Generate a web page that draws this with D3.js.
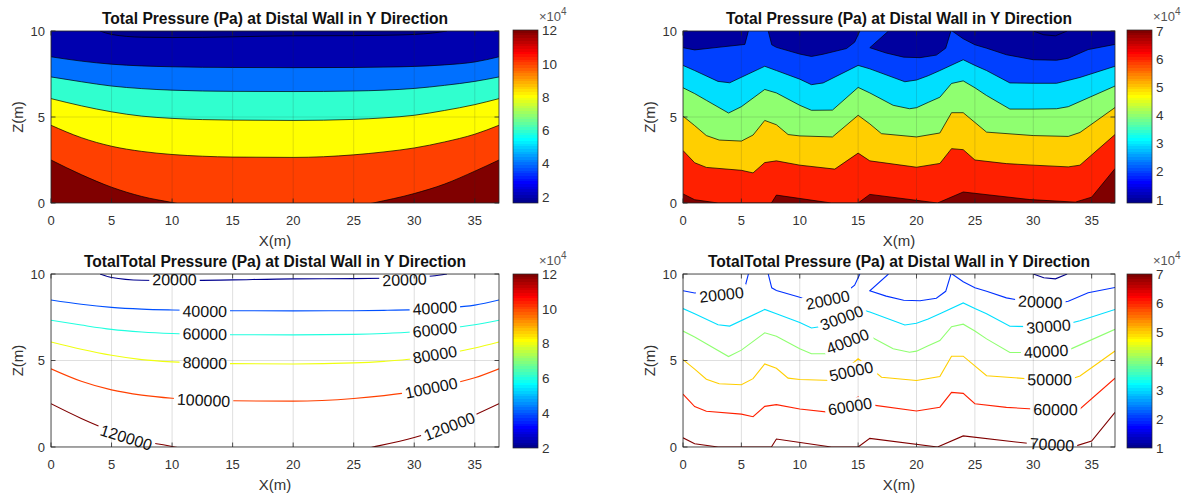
<!DOCTYPE html>
<html><head><meta charset="utf-8">
<script src="https://cdn.jsdelivr.net/npm/d3@7"></script>
<style>
body{margin:0;background:#fff;}
svg{display:block;font-family:"Liberation Sans",Arial,Helvetica,sans-serif;}
</style></head><body>
<svg id="chart" width="1190" height="495"></svg>
<script>
// ---------------- DATA ----------------
const xTicks = [0,5,10,15,20,25,30,35];
const zTicks = [0,5,10];
const leftBarTicks = [2,4,6,8,10,12];      // x10^4
const rightBarTicks = [1,2,3,4,5,6,7];     // x10^4

// Left dataset: contour lines (x, z) per pressure level
const leftLevels = [20000,40000,60000,80000,100000,120000];
const left20  = [[[4.05,10],[5,9.8],[7.5,9.64],[10,9.62],[12.5,9.63],[15,9.66],[20,9.72],[25,9.73],[27.5,9.75],[30,9.8],[31.5,9.88],[32.7,10]]];
const left40  = [[[0,8.5],[2.5,8.25],[5,8.07],[7.5,7.97],[10,7.92],[12.5,7.89],[15,7.88],[20,7.87],[25,7.88],[27.5,7.9],[30,7.94],[32.5,8.03],[35,8.2],[37,8.5]]];
const left60  = [[[0,7.33],[2.5,7.05],[5,6.8],[7.5,6.65],[10,6.56],[12.5,6.51],[15,6.49],[20,6.48],[25,6.51],[27.5,6.56],[30,6.66],[32.5,6.84],[35,7.07],[37,7.33]]];
const left80  = [[[0,6.07],[2.5,5.65],[5,5.3],[7.5,5.05],[10,4.92],[12.5,4.85],[15,4.82],[20,4.8],[25,4.86],[27.5,4.95],[30,5.1],[32.5,5.38],[35,5.72],[37,6.07]]];
const left100 = [[[0,4.52],[2.5,3.8],[5,3.3],[7.5,3.0],[10,2.82],[12.5,2.72],[15,2.67],[20,2.65],[25,2.8],[27.5,2.97],[30,3.2],[32.5,3.55],[35,4.0],[37,4.52]]];
const left120 = [[[0,2.5],[2.5,1.65],[5,0.92],[7.5,0.38],[10,0.03],[12.5,-0.3],[18.5,-0.8],[24.5,-0.3],[26.6,0],[30,0.55],[32.5,1.1],[35,1.85],[37,2.5]]];
const leftFillRange = [16400,120300];
const leftLineRange = [20000,120000];
const leftLabels = [[20000,10.2,9.67],[20000,29.2,9.67],[40000,12.7,7.84],[40000,31.7,8.03],
  [60000,12.7,6.53],[60000,31.7,6.78],[80000,12.7,4.86],[80000,31.7,5.34],
  [100000,12.6,2.7],[100000,31.4,3.41],[120000,6.2,0.55],[120000,32.9,1.19]];

// Right dataset
const rightLevels = [10000,20000,30000,40000,50000,60000,70000];
const right10 = [[[30,10],[30.9,9.78],[31.9,9.72],[32.9,10]]];
const right20 = [
  [[0,9.03],[1,8.9],[3,9.05],[5.3,9.22],[5.6,10]],
  [[7.3,10],[7.6,9.2],[8,9.05],[10,8.66],[11,8.52],[12,8.65],[14,8.98],[14.7,9.35],[15.15,10]],
  [[17.6,10],[16,9.03],[17.4,8.72],[18.9,8.48],[20.3,8.45],[21.7,8.6],[22.5,9.0],[22.95,10]],
  [[23.05,10],[24,9.55],[25,9.2],[26,9.0],[27.7,8.62],[30,8.33],[32,8.3],[33,8.42],[34.7,8.92],[37,9.22]]
];
const right30 = [[[0,8.0],[1,7.7],[3,7.07],[4,6.99],[7,7.95],[8,7.7],[10,7.2],[11,6.88],[12,6.98],[15,8.0],[16,7.8],[19,7.05],[20,7.15],[21,7.4],[22,7.7],[24,8.33],[25,8.0],[26,7.7],[28,6.98],[30,6.96],[32,6.96],[34,7.3],[37,7.95]]];
const right40 = [[[0,6.7],[1,6.36],[2,5.97],[3.9,5.23],[5,5.6],[7,6.6],[8,6.4],[10,5.68],[11,5.39],[12.8,5.4],[15,6.72],[16,6.4],[18,5.68],[19.4,5.48],[20,5.54],[21,5.85],[22,6.15],[23,6.95],[24,7.1],[25,6.7],[26,6.25],[28,5.46],[30,5.46],[32,5.48],[33,5.6],[37,6.8]]];
const right50 = [[[0,5.05],[1,4.5],[2,3.92],[3.1,3.66],[5,3.6],[6,3.95],[7,4.8],[8,4.55],[9,3.98],[10,3.9],[12.8,3.84],[15,5.1],[16,4.6],[17,4.03],[20,3.84],[22,4.07],[23,5.25],[24,5.25],[26,4.12],[30,3.92],[33,3.87],[34,4.1],[37,5.55]]];
const right60 = [[[0,3.05],[1,2.34],[2,2.07],[5,1.9],[6,1.75],[7,2.35],[8,2.45],[10,2.2],[13,1.97],[15,2.9],[16,2.45],[20,2.08],[22,2.3],[23,3.16],[24,3.1],[25,2.5],[27.7,2.29],[30,2.2],[33,2.1],[34,2.2],[37,3.98]]];
const right70 = [[[0,0.53],[1,0.19],[3,0],[7.57,0],[8,0.46],[12.7,0],[15,0],[16,0.5],[21.8,0],[24,0.64],[29.7,0.2],[33.6,0.05],[35,0.34],[37,2.0]]];
const rightFillRange = [8900,70300];
const rightLineRange = [10000,70000];
const rightLabels = [[20000,3.3,8.8],[20000,12.4,8.5],[20000,30.6,8.38],[30000,13.6,7.46],[30000,31.3,6.97],
  [40000,14.1,6.1],[40000,31.1,5.53],[50000,14.4,4.37],[50000,31.4,3.89],[60000,14.3,2.35],[60000,31.9,2.16],[70000,31.6,0.13]];

const title1 = "Total Pressure (Pa) at Distal Wall in Y Direction";
const title2 = "TotalTotal Pressure (Pa) at Distal Wall in Y Direction";

// ---------------- DRAWING ----------------
const svg = d3.select('#chart');
const defs = svg.append('defs');
const AX = '#262626';

// MATLAB-style jet colormap with 64 entries
function jetRow(k){ // k = 1..64
  const u = j => j<=16 ? j/16 : (j<=31 ? 1 : (48-j)/16);
  const r = (k>=25) ? u(k-24) : 0;
  const g = (k>=9 && k<=55) ? u(k-8) : 0;
  const b = (k<=39) ? u(k+8) : 0;
  const c = v => Math.round(255*v);
  return `rgb(${c(r)},${c(g)},${c(b)})`;
}
function cmap(v, range){
  const t = (v-range[0])/(range[1]-range[0]);
  const k = Math.max(1, Math.min(64, Math.floor(t*64)+1));
  return jetRow(k);
}
const grad = defs.append('linearGradient').attr('id','jetGrad').attr('x1',0).attr('y1',1).attr('x2',0).attr('y2',0);
d3.range(1,65).forEach(k=>{
  grad.append('stop').attr('offset',(k-1)/64).attr('stop-color',jetRow(k));
  grad.append('stop').attr('offset',k/64).attr('stop-color',jetRow(k));
});

function valuesAt(polys, xv){
  const out=[];
  polys.forEach(p=>{for(let i=0;i<p.length-1;i++){const a=p[i],b=p[i+1];const lo=Math.min(a[0],b[0]),hi=Math.max(a[0],b[0]);
    if(hi>lo && xv>=lo && xv<=hi) out.push(a[1]+(b[1]-a[1])*(xv-a[0])/(b[0]-a[0]));}});
  return out;
}
function nearestAt(polys, xv, z){
  const v=valuesAt(polys,xv); if(!v.length) return z;
  return v.reduce((m,d)=>Math.abs(d-z)<Math.abs(m-z)?d:m, v[0]);
}

let pid=0;
function panel(cfg){
  pid++;
  const x = d3.scaleLinear([0,37],[cfg.x0,cfg.x1]);
  const y = d3.scaleLinear([0,10],[cfg.y1,cfg.y0]);
  const cid='clip'+pid;
  defs.append('clipPath').attr('id',cid).append('rect')
    .attr('x',cfg.x0).attr('y',cfg.y0).attr('width',cfg.x1-cfg.x0).attr('height',cfg.y1-cfg.y0);
  const g = svg.append('g');
  const plot = g.append('g').attr('clip-path',`url(#${cid})`);
  const line = d3.line().x(d=>x(d[0])).y(d=>y(d[1])).curve(cfg.curve);
  const levels = cfg.levels;

  if(cfg.filled){
    const range=cfg.range;
    plot.append('rect').attr('x',cfg.x0).attr('y',cfg.y0).attr('width',cfg.x1-cfg.x0).attr('height',cfg.y1-cfg.y0)
      .attr('fill',cmap(levels[levels.length-1].level, range));
    for(let i=levels.length-1;i>=0;i--){
      const below = i>0 ? levels[i-1].level : range[0];
      const d = levels[i].polys.map(p=>line(p)+`L${x(p[p.length-1][0])},${y(11)}L${x(p[0][0])},${y(11)}Z`).join('');
      plot.append('path').attr('d',d).attr('fill',cmap(below, range));
    }
  } else {
    plot.append('rect').attr('x',cfg.x0).attr('y',cfg.y0).attr('width',cfg.x1-cfg.x0).attr('height',cfg.y1-cfg.y0).attr('fill','#fff');
  }
  // grid
  const grid = plot.append('g').attr('stroke',AX).attr('stroke-opacity',0.15).attr('stroke-width',1);
  xTicks.forEach(v=>grid.append('line').attr('x1',x(v)).attr('x2',x(v)).attr('y1',cfg.y0).attr('y2',cfg.y1));
  zTicks.forEach(v=>grid.append('line').attr('y1',y(v)).attr('y2',y(v)).attr('x1',cfg.x0).attr('x2',cfg.x1));

  // contour lines
  const lg = plot.append('g').attr('fill','none');
  let maskSel=null;
  if(!cfg.filled){
    const mid='mask'+pid;
    maskSel = defs.append('mask').attr('id',mid).attr('maskUnits','userSpaceOnUse').attr('x',0).attr('y',0).attr('width',1190).attr('height',495);
    maskSel.append('rect').attr('x',0).attr('y',0).attr('width',1190).attr('height',495).attr('fill','#fff');
    lg.attr('mask',`url(#${mid})`);
  }
  levels.forEach(L=>{
    L.polys.forEach(p=>{
      lg.append('path').attr('d',line(p))
        .attr('stroke', cfg.filled ? '#000' : cmap(L.level, cfg.lineRange))
        .attr('stroke-width', cfg.filled ? 0.7 : 1.1);
    });
  });

  // box and ticks
  const ax = g.append('g').attr('stroke',AX).attr('stroke-width',0.8).attr('fill','none');
  ax.append('rect').attr('x',cfg.x0).attr('y',cfg.y0).attr('width',cfg.x1-cfg.x0).attr('height',cfg.y1-cfg.y0);
  const tl=4.5;
  xTicks.forEach(v=>{
    ax.append('line').attr('x1',x(v)).attr('x2',x(v)).attr('y1',cfg.y1).attr('y2',cfg.y1-tl);
    ax.append('line').attr('x1',x(v)).attr('x2',x(v)).attr('y1',cfg.y0).attr('y2',cfg.y0+tl);
  });
  zTicks.forEach(v=>{
    ax.append('line').attr('y1',y(v)).attr('y2',y(v)).attr('x1',cfg.x0).attr('x2',cfg.x0+tl);
    ax.append('line').attr('y1',y(v)).attr('y2',y(v)).attr('x1',cfg.x1).attr('x2',cfg.x1-tl);
  });
  const tg = g.append('g').attr('fill','#333').style('font-size','13px');
  xTicks.forEach(v=>tg.append('text').attr('x',x(v)).attr('y',cfg.y1+22).attr('text-anchor','middle').text(v));
  zTicks.forEach(v=>tg.append('text').attr('x',cfg.x0-6).attr('y',y(v)).attr('dy','0.35em').attr('text-anchor','end').text(v));
  g.append('text').attr('x',(cfg.x0+cfg.x1)/2).attr('y',cfg.y1+43).attr('text-anchor','middle')
    .attr('fill','#333').style('font-size','15px').text('X(m)');
  g.append('text').attr('transform',`translate(${cfg.x0-28},${(cfg.y0+cfg.y1)/2}) rotate(-90)`).attr('text-anchor','middle')
    .attr('fill','#333').style('font-size','15px').text('Z(m)');
  g.append('text').attr('x',(cfg.x0+cfg.x1)/2).attr('y',cfg.y0-7).attr('text-anchor','middle')
    .attr('fill','#111').style('font-size','15.6px').style('font-weight','bold').text(cfg.title);

  // labels
  if(cfg.labels){
    const lab = g.append('g').attr('fill','#111').style('font-size','16px');
    const kx = x(1)-x(0);
    const lmap = new Map(levels.map(L=>[L.level,L.polys]));
    cfg.labels.forEach(([lev,lx,lz])=>{
      const t = lab.append('text').attr('text-anchor','middle').attr('dy','0.35em').text(lev);
      const w = t.node().getComputedTextLength();
      const hw = w/2/kx;
      const polys = lmap.get(lev);
      const zl = nearestAt(polys, lx-hw, lz), zr = nearestAt(polys, lx+hw, lz);
      const ang = Math.atan2(y(zr)-y(zl), x(lx+hw)-x(lx-hw))*180/Math.PI;
      const tr = `translate(${x(lx)},${y(lz)}) rotate(${ang})`;
      t.attr('transform',tr);
      maskSel.append('rect').attr('x',-w/2-3).attr('y',-8).attr('width',w+6).attr('height',16)
        .attr('fill','#000').attr('transform',tr);
    });
  }

  // colorbar
  const cb = cfg.cb;
  const cy = d3.scaleLinear(cb.range,[cb.y1,cb.y0]);
  const cg = svg.append('g');
  cg.append('rect').attr('x',cb.x0).attr('y',cb.y0).attr('width',cb.x1-cb.x0).attr('height',cb.y1-cb.y0)
    .attr('fill','url(#jetGrad)').attr('stroke',AX).attr('stroke-width',0.7);
  cb.ticks.forEach(v=>{
    cg.append('text').attr('x',cb.x1+4).attr('y',cy(v*1e4)).attr('dy','0.35em').attr('fill','#333')
      .style('font-size','13.5px').text(v);
  });
  const ex = cg.append('text').attr('x',cb.x1+1).attr('y',cb.y0-9).attr('fill','#555').style('font-size','13px');
  ex.append('tspan').text('×10');
  ex.append('tspan').attr('dy',-6).style('font-size','10px').text('4');
}

const leftLv = [left20,left40,left60,left80,left100,left120].map((p,i)=>({level:leftLevels[i],polys:p}));
const rightLv = [right10,right20,right30,right40,right50,right60,right70].map((p,i)=>({level:rightLevels[i],polys:p}));

panel({x0:51,x1:499,y0:31,y1:203,filled:true,levels:leftLv,range:leftFillRange,lineRange:leftLineRange,
  curve:d3.curveMonotoneX,title:title1,cb:{x0:513,x1:538,y0:30,y1:203,range:leftFillRange,ticks:leftBarTicks}});
panel({x0:683,x1:1115,y0:31,y1:203,filled:true,levels:rightLv,range:rightFillRange,lineRange:rightLineRange,
  curve:d3.curveLinear,title:title1,cb:{x0:1127,x1:1152,y0:30,y1:203,range:rightFillRange,ticks:rightBarTicks}});
panel({x0:51,x1:499,y0:274,y1:447,filled:false,levels:leftLv,lineRange:leftLineRange,labels:leftLabels,
  curve:d3.curveMonotoneX,title:title2,cb:{x0:513,x1:538,y0:274,y1:448,range:leftLineRange,ticks:leftBarTicks}});
panel({x0:683,x1:1115,y0:274,y1:447,filled:false,levels:rightLv,lineRange:rightLineRange,labels:rightLabels,
  curve:d3.curveLinear,title:title2,cb:{x0:1127,x1:1152,y0:274,y1:448,range:rightLineRange,ticks:rightBarTicks}});
</script>
</body></html>
